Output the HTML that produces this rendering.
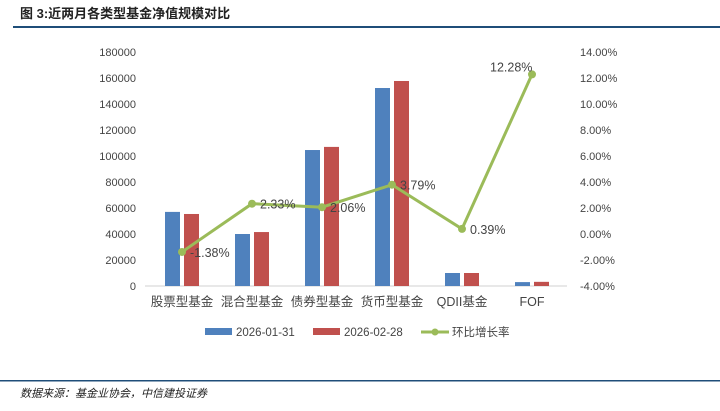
<!DOCTYPE html>
<html><head><meta charset="utf-8"><style>
body{margin:0;width:720px;height:406px;background:#fff;overflow:hidden;font-family:"Liberation Sans","Noto Sans CJK SC",sans-serif}
</style></head><body>
<svg width="720" height="406" xmlns="http://www.w3.org/2000/svg" font-family="Liberation Sans, Noto Sans CJK SC, sans-serif">
<text x="20" y="18" font-size="13" font-weight="bold" fill="#222">图 3:近两月各类型基金净值规模对比</text>
<rect x="13" y="26" width="707" height="2" fill="#1f4e79"/>
<g id="chart"></g>
<rect x="0" y="380" width="720" height="1.5" fill="#1f4e79"/>
<text x="20" y="397" font-size="11" font-style="italic" fill="#222">数据来源：基金业协会，中信建投证券</text>
</svg>
<script>
const categories=["股票型基金","混合型基金","债券型基金","货币型基金","QDII基金","FOF"];
const seriesJan=[57000,40000,104600,152300,10000,3000];
const seriesFeb=[55400,41500,107000,157700,10000,3200];
const growth=[-1.38,2.33,2.06,3.79,0.39,12.28];
const leftTicks=[0,20000,40000,60000,80000,100000,120000,140000,160000,180000];
const rightTicks=[-4,-2,0,2,4,6,8,10,12,14];
const NS="http://www.w3.org/2000/svg";
const g=document.getElementById('chart');
const x0=147,cw=70,yb=286,yt=52;
const yL=v=>yb-(v/180000)*(yb-yt);
const yR=v=>yb-((v+4)/18)*(yb-yt);
const xc=i=>x0+cw*i+cw/2;
function el(t,a,txt){const e=document.createElementNS(NS,t);for(const k in a)e.setAttribute(k,a[k]);if(txt!==undefined)e.textContent=txt;g.appendChild(e);return e;}
let ax=el('line',{x1:x0-2,x2:x0+cw*6,y1:yb,y2:yb,stroke:'#d0d0d0'});


leftTicks.forEach(v=>{const t=el('text',{x:136,y:yL(v)+4,'font-size':11,fill:'#444','text-anchor':'end'},String(v));

});
rightTicks.forEach(v=>{const t=el('text',{x:580,y:yR(v)+4,'font-size':11,fill:'#444'},v.toFixed(2)+'%');

});
categories.forEach((c,i)=>{
 const b1=el('rect',{x:xc(i)-17,y:yL(seriesJan[i]),width:15,height:yb-yL(seriesJan[i]),fill:'#4f81bd'});
 
 
 const b2=el('rect',{x:xc(i)+2,y:yL(seriesFeb[i]),width:15,height:yb-yL(seriesFeb[i]),fill:'#c0504d'});
 
 
 const t=el('text',{x:xc(i),y:306,'font-size':12.5,fill:'#444','text-anchor':'middle'},c);
 
 
});
const pl=el('polyline',{points:growth.map((v,i)=>xc(i)+','+yR(v)).join(' '),fill:'none',stroke:'#9bbb59','stroke-width':3});


growth.forEach((v,i)=>{
 const c=el('circle',{cx:xc(i),cy:yR(v),r:4,fill:'#9bbb59'});
 
 
 const t=el('text',{x:xc(i)+(i==5?-42:8),y:yR(v)+(i==5?-3:5),'font-size':12.5,fill:'#444'},v.toFixed(2)+'%');
 
 
});
let r=el('rect',{x:205,y:328,width:27,height:7,fill:'#4f81bd'});
let t1=el('text',{x:236,y:336,'font-size':11.5,fill:'#444'},'2026-01-31');
r=el('rect',{x:313,y:328,width:27,height:7,fill:'#c0504d'});
let t2=el('text',{x:344,y:336,'font-size':11.5,fill:'#444'},'2026-02-28');
let ll=el('line',{x1:421,x2:449,y1:332,y2:332,stroke:'#9bbb59','stroke-width':3});
let lc=el('circle',{cx:435,cy:332,r:3.5,fill:'#9bbb59'});
let t3=el('text',{x:452,y:336,'font-size':11.5,fill:'#444'},'环比增长率');
</script>
</body></html>
